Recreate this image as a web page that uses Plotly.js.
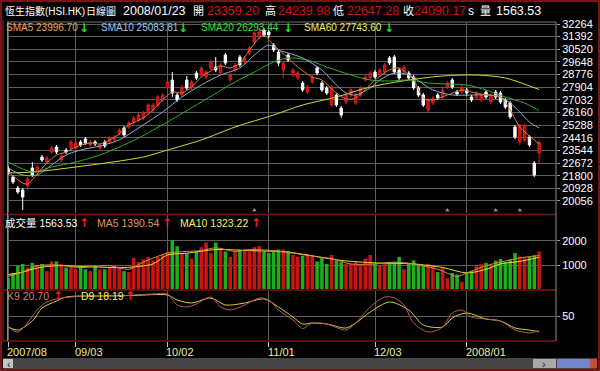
<!DOCTYPE html>
<html><head><meta charset="utf-8">
<script src="https://cdn.plot.ly/plotly-3.0.1.min.js"></script>
<style>html,body{margin:0;padding:0;background:#000}#c{width:600px;height:371px}</style>
</head><body><div id="c"></div>
<script>
// ---------------- data ----------------
const dates = ['2007/08/14','2007/08/15','2007/08/16','2007/08/17','2007/08/20','2007/08/21','2007/08/22','2007/08/23','2007/08/24','2007/08/27','2007/08/28','2007/08/29','2007/08/30','2007/08/31',
'2007/09/03','2007/09/04','2007/09/05','2007/09/06','2007/09/07','2007/09/10','2007/09/11','2007/09/12','2007/09/13','2007/09/14','2007/09/17','2007/09/18','2007/09/19','2007/09/20','2007/09/21','2007/09/24','2007/09/25','2007/09/27','2007/09/28',
'2007/10/02','2007/10/03','2007/10/04','2007/10/05','2007/10/08','2007/10/09','2007/10/10','2007/10/11','2007/10/12','2007/10/15','2007/10/16','2007/10/17','2007/10/18','2007/10/22','2007/10/23','2007/10/24','2007/10/25','2007/10/26','2007/10/29','2007/10/30','2007/10/31',
'2007/11/01','2007/11/02','2007/11/05','2007/11/06','2007/11/07','2007/11/08','2007/11/09','2007/11/12','2007/11/13','2007/11/14','2007/11/15','2007/11/16','2007/11/19','2007/11/20','2007/11/21','2007/11/22','2007/11/23','2007/11/26','2007/11/27','2007/11/28','2007/11/29','2007/11/30',
'2007/12/03','2007/12/04','2007/12/05','2007/12/06','2007/12/07','2007/12/10','2007/12/11','2007/12/12','2007/12/13','2007/12/14','2007/12/17','2007/12/18','2007/12/19','2007/12/20','2007/12/21','2007/12/24','2007/12/27','2007/12/28','2007/12/31',
'2008/01/02','2008/01/03','2008/01/04','2008/01/07','2008/01/08','2008/01/09','2008/01/10','2008/01/11','2008/01/14','2008/01/15','2008/01/16','2008/01/17','2008/01/18','2008/01/21','2008/01/22','2008/01/23'];

const openP = [22328,21707,20948,20810,21086,22328,22052,23087,22742,23432,
23777,22880,23570,23708,23708,24122,24329,23915,24122,23708,
24122,24122,24260,24743,25088,25157,25502,25640,25778,26123,
26330,26675,27020,27848,28400,27365,27365,28400,27848,28883,
28745,28607,29228,29297,28883,30125,28400,29090,29987,29642,
30263,31022,31367,31850,31712,30815,30332,29090,30125,28745,
28538,28193,27572,28262,29228,28193,27848,26675,27365,26468,
26882,27365,26813,27365,28400,28538,28952,28745,28952,29918,
29987,29090,28952,28883,28607,27848,27365,26330,26813,27365,
27227,27917,28400,27572,27572,27710,27227,27158,27020,27572,
26882,27572,27503,27020,26813,25157,24122,24260,24467,22673,23359.20];
const highP = [22466,21845,21086,20948,21707,22742,22535,23225,23156,23846,
23915,23294,23708,24260,24191,24260,24467,24260,24260,24053,
24260,24536,24605,25088,25226,25571,25916,26123,26261,26813,
26813,27365,27503,28400,28952,27503,28055,28676,28400,29021,
29366,29090,29780,29987,29573,30263,28883,29573,30125,30056,
30746,31781,31988,31988,31850,30953,30470,29711,30263,29228,
29021,28331,28055,28745,29366,28331,27986,28055,27503,26606,
27503,27848,27503,27986,28745,29021,29090,29228,29573,30056,
30125,29228,29435,29021,28745,27986,27503,27158,27296,27503,
27848,28331,28538,27710,28055,27848,27365,27641,27503,27710,
27503,27710,27641,27158,26951,25295,25364,25364,24605,22811,24239.98];
const lowP = [21845,21224,20534,19430,20810,21707,21914,22742,22604,23294,
23294,22742,23294,23570,23570,23777,23915,23777,23846,23570,
23708,23984,24122,24605,24467,25019,25364,25502,25640,25985,
26192,26537,26882,27710,27227,26882,27227,27710,27710,28400,
28607,28469,29090,28952,28745,29435,28262,28952,29297,29504,
30125,30884,31229,31367,31298,30332,29366,28538,29642,28607,
28400,27572,27434,28124,28745,27572,27365,26537,26537,25778,
26744,27227,26675,27227,28262,28400,28469,28607,28814,29435,
28814,28400,28814,28400,27710,27227,26537,26192,26675,27020,
27089,27779,27779,27296,27434,27296,26882,27020,26882,27089,
26744,27089,26744,26399,25709,24329,23915,24122,23777,21707,22647.28];
const closeP = [21983,21362,20672,20327,21569,21845,22397,22880,23018,23708,
23432,23156,23432,24122,24053,23915,24053,24122,23984,23915,
23846,24398,24467,24950,24605,25433,25778,25985,26123,26675,
26675,27227,27365,28262,27503,27020,27917,27848,28262,28538,
29228,28952,29642,29090,29435,29573,28745,29435,29435,29918,
30608,31643,31712,31505,31505,30470,29573,29573,29780,29090,
28883,27710,27917,28607,28883,27710,27503,27917,26675,25985,
27365,27710,27365,27848,28607,28883,28607,29090,29435,29573,
28952,28538,29297,28538,27848,27365,26675,27020,27158,27158,
27710,28193,27917,27434,27917,27503,27020,27503,27365,27227,
27365,27227,26882,26537,25847,24467,25295,25295,23915,21845,24090.17];
const volume = [450,670,970,1044,895,1089,970,1044,745,1149,
1149,1044,895,970,820,895,820,745,1000,820,
820,895,1000,925,745,704,1297,1119,1237,1342,
1192,1342,1417,1566,2042,1786,1492,1492,1267,1566,
1744,1938,1492,1938,1641,1566,1342,1566,1641,1641,
1566,1744,1786,1566,1492,1537,1641,1641,1580,1417,
1342,1387,1447,1342,1149,1297,1044,1417,1192,1119,
1044,1044,1119,1044,1267,1417,1044,970,1044,1119,
1119,1342,820,1044,1192,1044,970,1044,970,704,
895,450,670,600,300,670,745,970,1044,1089,
970,1180,1250,1130,1220,1500,1350,1300,1330,1410,1563.53];

// moving averages (index of trading day, value)
const sma5Idx = [0,3,4,6,8,10,12,14,17,19,21,23,25,28,30,32,34,36,38,40,42,44,46,48,50,52,53,55,58,60,63,65,68,70,72,76,79,81,84,86,88,91,94,96,99,102,104,106,109,110];
const sma5Val = [22052,21293,21224,21914,22673,23225,23432,23777,24053,23984,24260,24674,25295,25778,26330,27020,27572,27503,27917,28607,29021,29366,29228,29573,30470,31298,31505,30815,29918,29297,28607,28400,27503,27089,27158,28400,29090,29228,28400,27158,27020,27365,27710,27572,27365,27227,26330,25157,24260,23996.70];
const sma10Idx = [0,3,6,9,12,15,19,23,27,32,36,40,44,48,51,54,56,58,61,65,68,70,72,75,77,80,83,88,92,96,100,102,104,106,108,110];
const sma10Val = [22328,21845,21845,22535,23225,23570,23846,24260,25088,26192,27227,28055,28745,29228,30125,30815,30470,30263,29918,29090,28055,27503,27365,27848,28400,28883,28745,27710,27365,27365,27365,27227,26813,26192,25502,25083.81];
const sma20Idx = [0,5,9,14,19,23,27,33,40,47,51,55,58,62,66,71,75,79,83,87,91,95,99,103,107,110];
const sma20Val = [22742,22052,22397,22742,23225,23777,24398,25502,26882,28262,28952,29642,29918,29780,29297,28745,28400,28331,28400,28193,28124,28055,27710,27227,26813,26293.44];
const sma60Idx = [0,5,14,28,33,40,47,55,61,68,75,83,90,97,103,110];
const sma60Val = [21983,22052,22397,23087,23570,24260,25157,25985,26675,27227,27917,28400,28676,28745,28538,27743.60];

const volMa5Idx = [0,3,6,10,15,21,25,28,33,37,40,43,47,50,55,59,64,67,71,76,80,84,89,93,95,99,102,106,110];
const volMa5Val = [525,704,970,1000,895,970,820,1119,1492,1566,1600,1716,1566,1641,1600,1492,1342,1267,1044,1044,1119,1044,820,525,670,970,1119,1297,1390.54];
const volMa10Idx = [0,3,6,10,17,24,30,33,37,43,50,58,62,69,76,84,90,95,99,102,106,110];
const volMa10Val = [600,704,875,970,925,895,1044,1417,1492,1641,1600,1537,1417,1192,1089,1044,895,670,820,1044,1149,1323.22];

const kIdx = [0,2,4,6,8,11,13,16,23,26,30,33,35,37,39,42,44,46,49,52,54,56,59,61,63,66,70,72,75,78,80,82,84,87,90,92,94,96,99,102,105,108,109,110];
const kVal = [28,18,36,62,78,86,88,90,90,92,94,94,72,68,74,88,68,62,72,86,82,62,42,25,36,34,22,36,68,88,86,72,36,18,28,56,62,48,44,40,22,16,18,20.70];
const dIdx = [0,2,5,7,10,12,19,26,33,35,38,42,45,49,53,56,59,61,63,66,70,72,75,79,83,86,90,92,95,99,102,105,108,110];
const dVal = [28,22,40,66,80,88,90,91,92,82,76,86,72,76,84,68,48,34,36,34,26,36,58,78,62,32,28,46,56,44,40,26,22,18.19];

const markIdx = [51,91,101,106];

const priceTicks = [20056,20928,21800,22672,23544,24416,25288,26160,27032,27904,28776,29648,30520,31392,32264];
const volTicks = [1000,2000];
const kdTicks = [50];
const xTickIdx = [0,14,33,54,76,95];
const xTickText = ['2007/08','09/03','10/02','11/01','12/03','2008/01'];

// ---------------- helpers ----------------
const PL = 7, PR = 556, PT = 22, PB = 341;
const xp = px => (px - PL) / (PR - PL);
const yp = py => (PB - py) / (PB - PT);
const FONT = 'Liberation Sans, Arial, Noto Sans CJK TC, sans-serif';
const AFONT = 'DejaVu Sans, sans-serif';
const ann = (px, py, text, color, size, fam) => ({xref:'paper', yref:'paper', x:xp(px), y:yp(py), xanchor:'left', yanchor:'middle',
  text:text, showarrow:false, font:{family:fam||FONT, size:size||10, color:color}});
const arrow = (px, py, up) => ann(px, py, '<b>' + (up ? '↑' : '↓') + '</b>', up ? '#e82020' : '#20e020', 12, AFONT);
const at = (idx, arr) => idx.map(i => arr[i]);

// ---------------- traces ----------------
const traces = [];
traces.push({type:'candlestick', x:dates, open:openP, high:highP, low:lowP, close:closeP, xaxis:'x', yaxis:'y',
  increasing:{line:{color:'#e01c1c', width:1}, fillcolor:'#b80e0e'},
  decreasing:{line:{color:'#ffffff', width:1}, fillcolor:'#ffffff'},
  whiskerwidth:0, hoverinfo:'skip'});
const maLine = (idx, val, color, yaxis) => ({type:'scatter', mode:'lines', x:at(idx, dates), y:val, xaxis:'x', yaxis:yaxis||'y',
  line:{color:color, width:1, shape:'spline', smoothing:0.8}, hoverinfo:'skip'});
traces.push(maLine(sma60Idx, sma60Val, '#d8d838'));
traces.push(maLine(sma20Idx, sma20Val, '#2fae2f'));
traces.push(maLine(sma10Idx, sma10Val, '#86acd8'));
traces.push(maLine(sma5Idx, sma5Val, '#d4803c'));
traces.push({type:'scatter', mode:'markers', x:at(markIdx, dates), y:markIdx.map(() => 19420), xaxis:'x', yaxis:'y',
  marker:{symbol:'triangle-up', size:4, color:'#9a9a9a'}, hoverinfo:'skip'});

traces.push({type:'bar', x:dates, y:volume, xaxis:'x', yaxis:'y2', width:0.74,
  marker:{color:closeP.map((c,i) => c >= openP[i] ? '#c81414' : '#1fae1f'), line:{width:0}}, hoverinfo:'skip'});
traces.push(maLine(volMa10Idx, volMa10Val, '#e8e020', 'y2'));
traces.push(maLine(volMa5Idx, volMa5Val, '#d88a4a', 'y2'));

traces.push(maLine(dIdx, dVal, '#d8d030', 'y3'));
traces.push(maLine(kIdx, kVal, '#b85a5a', 'y3'));

// ---------------- layout ----------------
const gridC = '#5c5c5c';
const annotations = [
  ann(3, 11, '恆生指數(HSI.HK)', '#ffffff', 10),
  ann(84, 11, '日線圖', '#ffffff', 10),
  ann(121, 11, '2008/01/23', '#ffffff', 12.5),
  ann(191, 11, '開', '#ffffff', 11),
  ann(205, 11, '23359.20', '#d01414', 12.5),
  ann(263, 11, '高', '#ffffff', 11),
  ann(276, 11, '24239.98', '#d01414', 12.5),
  ann(331, 11, '低', '#ffffff', 11),
  ann(345, 11, '22647.28', '#d01414', 12.5),
  ann(401, 11, '收', '#ffffff', 11),
  ann(412, 11, '24090.17', '#d01414', 12.5),
  ann(466, 11, 's', '#ffffff', 12),
  ann(478, 11, '量', '#ffffff', 11),
  ann(494, 11, '1563.53', '#ffffff', 12.5),

  ann(4, 28, 'SMA5 23996.70', '#f0a050', 10),
  arrow(77, 28, false),
  ann(99, 28, 'SMA10 25083.81', '#9cc8f0', 10),
  arrow(176, 28, false),
  ann(199, 28, 'SMA20 26293.44', '#30e030', 10),
  arrow(281, 28, false),
  ann(302, 28, 'SMA60 27743.60', '#f0f060', 10),
  arrow(382, 28, false),

  ann(3, 223, '成交量 1563.53', '#ffffff', 10.5),
  arrow(77, 223, true),
  ann(95, 223, 'MA5 1390.54', '#e09070', 10.5),
  arrow(160, 223, true),
  ann(178, 223, 'MA10 1323.22', '#f0f060', 10.5),
  arrow(249, 223, true),

  ann(5, 296, 'K9 20.70', '#d87a6a', 10.5),
  arrow(51, 296, true),
  ann(79, 296, 'D9 18.19', '#f0f060', 10.5),
  arrow(123, 296, true),

  ann(4.5, 363.5, '‹', '#202020', 11),
  ann(540, 363.5, '›', '#202020', 11)
];
xTickIdx.forEach((ix, k) => annotations.push({xref:'x', yref:'paper', x:dates[ix], y:yp(352), xanchor:'left', yanchor:'middle',
  xshift:-3, text:xTickText[k], showarrow:false, font:{family:FONT, size:11, color:'#ecec9a'}}));

const rectPx = (x0, y0, x1, y1, fill, line, lw) => ({type:'rect', xref:'paper', yref:'paper', x0:xp(x0), x1:xp(x1), y0:yp(y1), y1:yp(y0),
  fillcolor:fill||'rgba(0,0,0,0)', line:{color:line||'rgba(0,0,0,0)', width:lw||0}, layer:'above'});
const linePx = (x0, y0, x1, y1, color, lw) => ({type:'line', xref:'paper', yref:'paper', x0:xp(x0), x1:xp(x1), y0:yp(y0), y1:yp(y1),
  line:{color:color, width:lw||1}, layer:'above'});
const maroon = '#7a1414';
const shapes = [
  rectPx(1, 1, 599, 370, null, maroon, 2),
  linePx(3, 20, 3, 341, maroon, 1.5),
  linePx(3, 214.5, 556, 214.5, maroon, 1.5),
  linePx(3, 290, 556, 290, maroon, 1.5),
  linePx(3, 341, 556, 341, maroon, 1.5),
  linePx(7, 22, 556, 22, '#707070', 1),
  linePx(556, 22, 556, 341, '#8a8a8a', 1),
  linePx(7.5, 22, 7.5, 341, '#8a8a8a', 1),
  rectPx(3, 358, 597, 369, '#454545'),
  rectPx(3, 359, 13, 368, '#c4c4c4'),
  rectPx(533, 359, 556, 368, '#a8a8a8'),
  rectPx(557, 359, 590, 368, '#6f86cc'),
  rectPx(590, 359, 597, 368, '#c05040')
];

const layout = {
  width:600, height:371, showlegend:false,
  paper_bgcolor:'#000000', plot_bgcolor:'#000000',
  margin:{l:PL, r:600-PR, t:PT, b:371-PB, pad:0},
  font:{family:FONT, color:'#ffffff', size:11},
  xaxis:{type:'category', range:[-0.25, 113.5], anchor:'y3', tickmode:'array', tickvals:at(xTickIdx, dates),
    showticklabels:false, ticks:'outside', ticklen:5, tickcolor:'#c8c8c8', showgrid:true, gridcolor:gridC, gridwidth:1,
    zeroline:false, showline:false, rangeslider:{visible:false}, fixedrange:true},
  yaxis:{domain:[yp(213), 1], side:'right', range:[19223, 32402], tickmode:'array', tickvals:priceTicks,
    ticktext:priceTicks.map(String), tickfont:{family:FONT, size:11, color:'#ffffff'}, ticks:'outside', ticklen:3, tickcolor:'#9a9a9a',
    showgrid:true, gridcolor:gridC, zeroline:false, showline:false, fixedrange:true},
  yaxis2:{domain:[yp(289), yp(215)], anchor:'x', side:'right', range:[0, 3083], tickmode:'array', tickvals:volTicks,
    ticktext:volTicks.map(String), tickfont:{family:FONT, size:11, color:'#ffffff'}, ticks:'outside', ticklen:3, tickcolor:'#9a9a9a',
    showgrid:true, gridcolor:gridC, zeroline:false, showline:false, fixedrange:true},
  yaxis3:{domain:[0, yp(291)], anchor:'x', side:'right', range:[0, 100], tickmode:'array', tickvals:kdTicks,
    ticktext:kdTicks.map(String), tickfont:{family:FONT, size:11, color:'#ffffff'}, ticks:'outside', ticklen:3, tickcolor:'#9a9a9a',
    showgrid:true, gridcolor:gridC, zeroline:false, showline:false, fixedrange:true},
  boxgap:0.3,
  bargap:0.2,
  annotations:annotations,
  shapes:shapes
};

Plotly.newPlot('c', traces, layout, {staticPlot:true, displayModeBar:false});
</script>
</body></html>
